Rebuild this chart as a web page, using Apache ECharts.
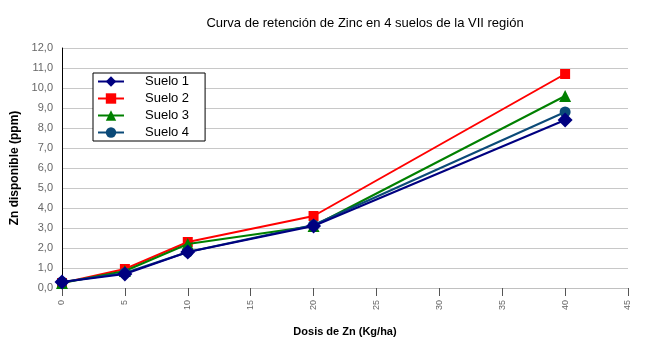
<!DOCTYPE html>
<html><head><meta charset="utf-8">
<script src="https://cdn.jsdelivr.net/npm/echarts@6/dist/echarts.min.js"></script>
<style>html,body{margin:0;padding:0;background:#fff}#c{width:660px;height:360px}</style>
</head><body><div id="c"></div>
<script>
var doses = [0, 5, 10, 20, 40];
var suelo1 = [0.3, 0.7, 1.8, 3.1, 8.4];
var suelo2 = [0.25, 0.95, 2.3, 3.6, 10.7];
var suelo3 = [0.25, 0.85, 2.2, 3.1, 9.6];
var suelo4 = [0.3, 0.75, 1.8, 3.15, 8.8];
var seriesNames = ['Suelo 1', 'Suelo 2', 'Suelo 3', 'Suelo 4'];
var titleText = 'Curva de retención de Zinc en 4 suelos de la VII región';
var xTitle = 'Dosis de Zn (Kg/ha)';
var yTitle = 'Zn disponible (ppm)';

function pts(v){ return doses.map(function(d,i){ return [d, v[i]]; }); }
var font = 'Liberation Sans, Arial, sans-serif';
var styles = [
  {c:'#000080', sym:'diamond', size:15, z:5},
  {c:'#ff0000', sym:'rect', size:10, z:2},
  {c:'#008000', sym:'triangle', size:12, z:3},
  {c:'#0b4a78', sym:'circle', size:11, z:4}
];
var data = [suelo1, suelo2, suelo3, suelo4];
var chart = echarts.init(document.getElementById('c'));
chart.setOption({
  animation:false,
  title:{text:titleText, left:360, top:12, textAlign:'center',
    textStyle:{fontFamily:font, fontSize:13, fontWeight:'normal', color:'#000'}},
  grid:{left:62, right:32, top:48, bottom:72},
  legend:{left:93, top:73, orient:'vertical', itemGap:4, itemWidth:26, itemHeight:13,
    padding:[2,16,2,4], borderColor:'#000', borderWidth:1, backgroundColor:'#fff',
    textStyle:{fontFamily:font, fontSize:13, color:'#000', padding:[0,0,0,16]},
    data: seriesNames},
  xAxis:{type:'value', min:0, max:45, interval:5,
    name:xTitle, nameLocation:'middle', nameGap:38,
    nameTextStyle:{fontFamily:font, fontSize:11, fontWeight:'bold', color:'#000'},
    axisLine:{lineStyle:{color:'#c0c0c0'}},
    axisTick:{show:true, length:8, lineStyle:{color:'#555'}},
    axisLabel:{rotate:90, fontFamily:font, fontSize:9, color:'#666', margin:12},
    splitLine:{show:false}},
  yAxis:{type:'value', min:0, max:12, interval:1,
    name:yTitle, nameLocation:'middle', nameGap:41,
    nameTextStyle:{fontFamily:font, fontSize:12, fontWeight:'bold', color:'#000'},
    axisLine:{show:true, lineStyle:{color:'#000'}},
    axisTick:{show:false},
    axisLabel:{fontFamily:font, fontSize:11, color:'#666', margin:9,
      formatter:function(v){ return v.toFixed(1).replace('.', ','); }},
    splitLine:{lineStyle:{color:'#c8c8c8', width:1}}},
  series: seriesNames.map(function(n,i){
    var s = styles[i];
    return {name:n, type:'line', data:pts(data[i]), z:s.z,
      symbol:s.sym, symbolSize:s.size, showSymbol:true,
      itemStyle:{color:s.c}, lineStyle:{color:s.c, width:2}};
  })
});
</script></body></html>
